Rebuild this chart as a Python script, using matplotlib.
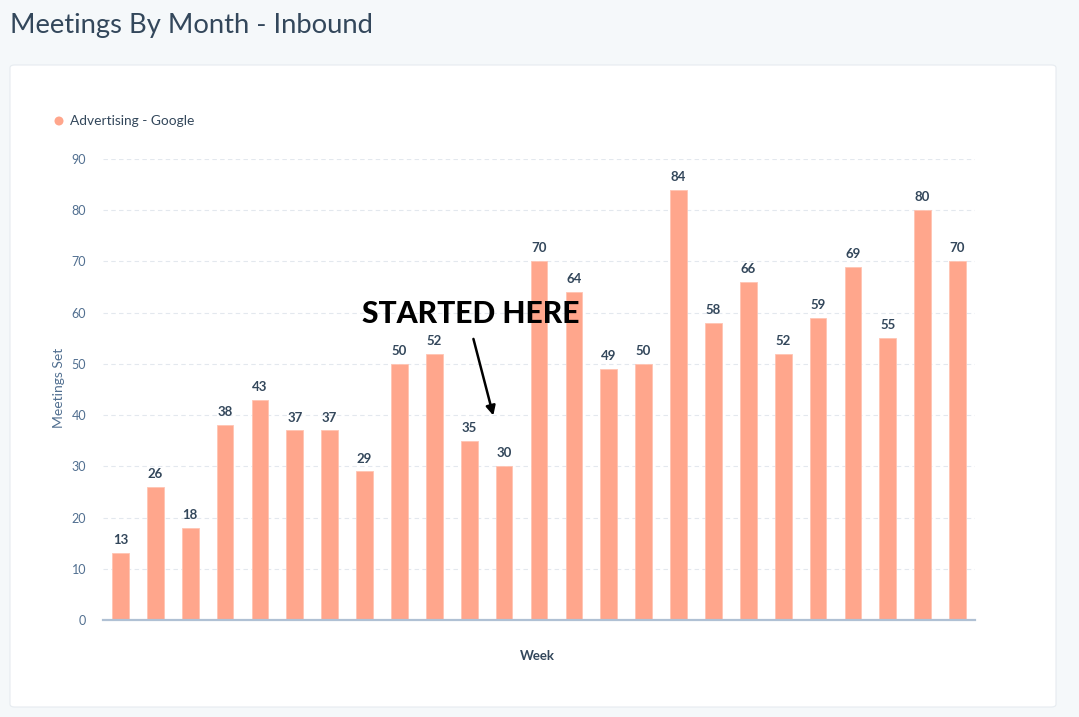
import matplotlib
matplotlib.use("Agg")
import matplotlib.pyplot as plt
from matplotlib.patches import FancyBboxPatch, Ellipse

values = [13, 26, 18, 38, 43, 37, 37, 29, 50, 52, 35, 30, 70, 64, 49, 50, 84, 58, 66, 52, 59, 69, 55, 80, 70]
yticks = [0, 10, 20, 30, 40, 50, 60, 70, 80, 90]
series_name = "Advertising - Google"
title = "Meetings By Month - Inbound"
xlabel = "Week"
ylabel = "Meetings Set"
annotation = "STARTED HERE"

W, H = 1079, 717
fig = plt.figure(figsize=(W / 100, H / 100), dpi=100)
fig.patch.set_facecolor("#f5f8fa")

# card
card = FancyBboxPatch((10 / W, 1 - 707 / H), (1056 - 10) / W, (707 - 65) / H,
                      boxstyle="round,pad=0,rounding_size=0.004",
                      transform=fig.transFigure, facecolor="white",
                      edgecolor="#e6ebf0", linewidth=0.8, zorder=-5)
fig.add_artist(card)

fig.text(10 / W, 1 - 26 / H, title, fontsize=19.7, color="#33475b",
         family="Lato", va="center", ha="left")

ax = fig.add_axes([103 / W, 1 - 620 / H, (975 - 103) / W, (620 - 159) / H])
ax.set_zorder(2)
ax.set_facecolor("none")
x = list(range(len(values)))
bars = ax.bar(x, values, width=0.48, color="#ffa68c", edgecolor="#ffc4b3",
              linewidth=0.6, zorder=3)
for xi, v in zip(x, values):
    ax.annotate(str(v), (xi, v), xytext=(0, 5), textcoords="offset points",
                ha="center", va="bottom", fontsize=9.5, fontweight="bold",
                color="#33475b", family="Lato")

ax.set_xlim(-0.5, len(values) - 0.5)
ax.set_ylim(0, 90)
ax.set_yticks(yticks)
ax.set_xticks([])
ax.tick_params(axis="y", length=0, pad=12, labelsize=9, labelcolor="#516f90")
for lab in ax.get_yticklabels():
    lab.set_family("Lato")
ax.grid(axis="y", color="#e3e8ee", linestyle=(0, (4, 3)), linewidth=0.8, zorder=0)
ax.set_axisbelow(True)
for s in ["top", "right", "left"]:
    ax.spines[s].set_visible(False)
ax.spines["bottom"].set_color("#b0c1d4")
ax.spines["bottom"].set_linewidth(1.6)
ax.spines["bottom"].set_zorder(4)

fig.text(59 / W, 1 - 388 / H, ylabel, rotation=90, fontsize=10, color="#516f90",
         family="Lato", ha="center", va="center")
fig.text(537 / W, 1 - 656 / H, xlabel, fontsize=9.5, fontweight="bold",
         color="#33475b", family="Lato", ha="center", va="center")

# legend
fig.add_artist(Ellipse((59 / W, 1 - 121 / H), 9 / W, 9 / H, transform=fig.transFigure,
                       facecolor="#ffa68c", edgecolor="none", zorder=3))
fig.text(70 / W, 1 - 121 / H, series_name, fontsize=9.9, color="#33475b",
         family="Lato", ha="left", va="center")

# annotation
ax.annotate("", xy=(10.71, 39.4), xytext=(10.1, 55.4),
            arrowprops=dict(arrowstyle="-|>", color="black", lw=1.8,
                            mutation_scale=14), zorder=6)
ax.text(10.04, 59.7, annotation, fontsize=21.6, fontweight="black", family="Lato",
        color="black", ha="center", va="center", zorder=6)

fig.savefig("out.png", dpi=100, facecolor=fig.get_facecolor())
